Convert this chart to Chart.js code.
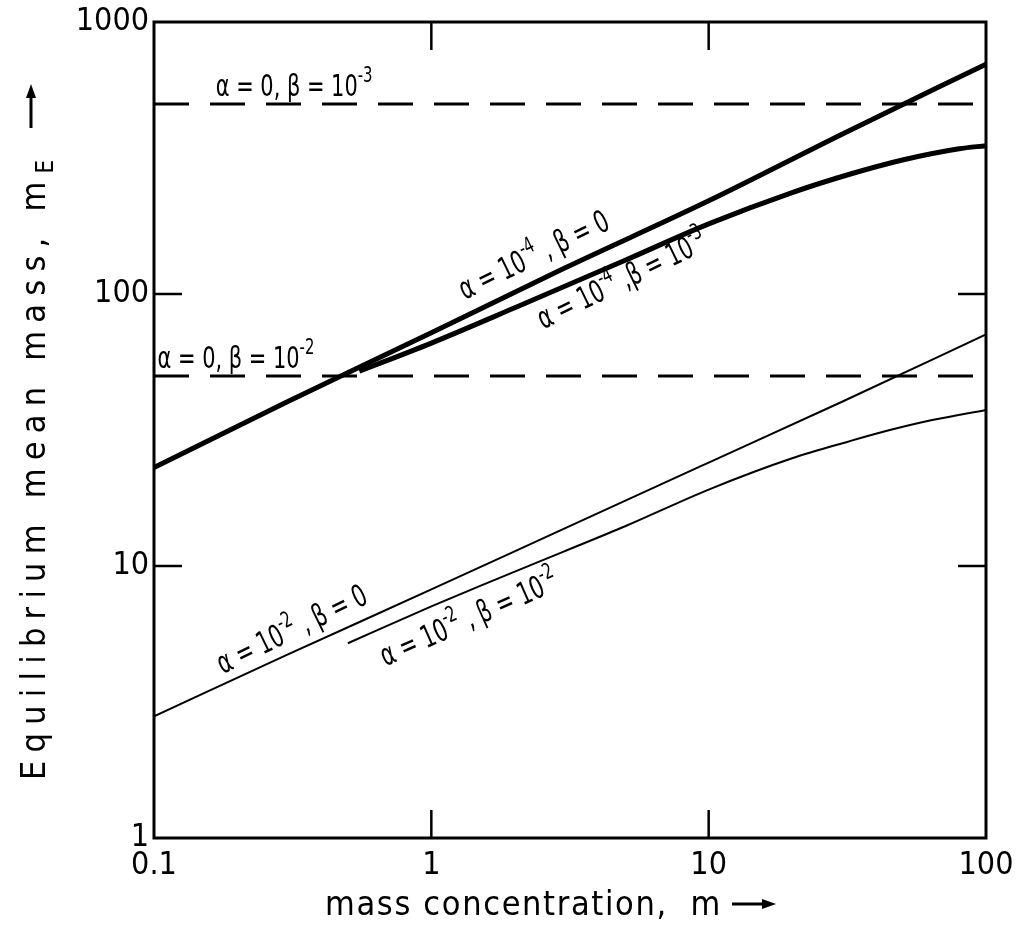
<!DOCTYPE html>
<html>
<head>
<meta charset="utf-8">
<script src="https://cdn.jsdelivr.net/npm/chart.js@4.4.1/dist/chart.umd.min.js"></script>
<style>
  body { margin: 0; background: #fff; }
  #wrap { width: 1018px; height: 941px; }
</style>
</head>
<body>
<div id="wrap"><canvas id="myChart"></canvas></div>
<script>
const FONT = '"DejaVu Sans Condensed", "Liberation Sans Narrow", "DejaVu Sans", sans-serif';

// tick values / labels
const xTicks = [0.1, 1, 10, 100];
const xTickLabels = ['0.1', '1', '10', '100'];
const yTicks = [1, 10, 100, 1000];
const yTickLabels = ['1', '10', '100', '1000'];

// curves (m -> m_E)
const a4b0X = [0.1, 0.3, 1, 3, 10, 30, 100];
const a4b0Y = [23, 40, 72, 124, 220, 385, 700];

const a4b3X = [0.55, 1, 2, 5, 10, 20, 32, 50, 80, 100];
const a4b3Y = [52, 66, 89, 133, 181, 236, 275, 311, 342, 351];

const a2b0X = [0.1, 0.3, 1, 3, 10, 30, 100];
const a2b0Y = [2.8, 4.7, 8.2, 13.7, 24, 40, 71];

const a2b2X = [0.5, 1, 1.5, 3, 5, 10, 20, 32, 45, 64, 100];
const a2b2Y = [5.2, 7.1, 8.45, 11.3, 14, 19.1, 24.9, 28.7, 31.6, 34.4, 37.5];

const b3OnlyX = [0.1, 100];
const b3OnlyY = [500, 500];
const b2OnlyX = [0.1, 100];
const b2OnlyY = [50, 50];

const zip = (xs, ys) => xs.map((x, i) => ({ x: x, y: ys[i] }));

// curve labels, anchored in data coordinates
const notes = [
  { text: 'α = 0, β = 10^{-3}', x: 0.167, y: 536, angle: 0 },
  { text: 'α = 0, β = 10^{-2}', x: 0.103, y: 53.6, angle: 0 },
  { text: 'α = 10^{-4} , β = 0', x: 1.32, y: 95, angle: -26 },
  { text: 'α = 10^{-4} ,β = 10^{-3}', x: 2.53, y: 74, angle: -26 },
  { text: 'α = 10^{-2} , β = 0', x: 0.177, y: 4.0, angle: -26 },
  { text: 'α = 10^{-2} , β = 10^{-2}', x: 0.684, y: 4.27, angle: -24 }
];

function drawRich(ctx, str, x, y, size, angle, sx) {
  const parts = str.split(/(\^\{[^}]*\})/).filter(s => s);
  ctx.save();
  ctx.translate(x, y);
  ctx.rotate(angle * Math.PI / 180);
  ctx.scale(sx, 1);
  ctx.textAlign = 'left';
  ctx.textBaseline = 'alphabetic';
  let cx = 0;
  parts.forEach(p => {
    if (p.startsWith('^{')) {
      const t = p.slice(2, -1);
      ctx.font = Math.round(size * 0.72) + 'px ' + FONT;
      ctx.fillText(t, cx, -size * 0.45);
      cx += ctx.measureText(t).width;
    } else {
      ctx.font = size + 'px ' + FONT;
      ctx.fillText(p, cx, 0);
      cx += ctx.measureText(p).width;
    }
  });
  ctx.restore();
  return cx;
}

function arrowHead(ctx, x, y, len, half) {
  ctx.beginPath();
  ctx.moveTo(x, y);
  ctx.lineTo(x - len, y - half);
  ctx.lineTo(x - len, y + half);
  ctx.closePath();
  ctx.fill();
}

const decor = {
  id: 'decor',
  afterDraw(chart) {
    const ctx = chart.ctx;
    const a = chart.chartArea;
    const xs = chart.scales.x, ys = chart.scales.y;
    ctx.save();
    ctx.fillStyle = '#000';
    ctx.strokeStyle = '#000';

    // frame
    ctx.lineWidth = 3;
    ctx.strokeRect(a.left, a.top, a.right - a.left, a.bottom - a.top);

    // inward ticks
    ctx.lineWidth = 2.5;
    const tl = 28;
    [1, 10].forEach(v => {
      const px = xs.getPixelForValue(v);
      ctx.beginPath();
      ctx.moveTo(px, a.bottom); ctx.lineTo(px, a.bottom - tl);
      ctx.moveTo(px, a.top); ctx.lineTo(px, a.top + tl);
      ctx.stroke();
    });
    [10, 100].forEach(v => {
      const py = ys.getPixelForValue(v);
      ctx.beginPath();
      ctx.moveTo(a.left, py); ctx.lineTo(a.left + tl, py);
      ctx.moveTo(a.right, py); ctx.lineTo(a.right - tl, py);
      ctx.stroke();
    });

    // curve labels
    ctx.letterSpacing = '0px';
    notes.forEach(n => {
      drawRich(ctx, n.text, xs.getPixelForValue(n.x), ys.getPixelForValue(n.y), 31, n.angle, 0.75);
    });

    // x axis title
    const size = 34;
    ctx.font = size + 'px ' + FONT;
    ctx.letterSpacing = '0px';
    let xt = 'mass concentration,  m';
    let w0 = ctx.measureText(xt).width;
    ctx.letterSpacing = ((397 - w0) / xt.length).toFixed(2) + 'px';
    ctx.textAlign = 'left';
    ctx.textBaseline = 'alphabetic';
    ctx.fillText(xt, 325, 915);
    ctx.lineWidth = 3;
    ctx.beginPath();
    ctx.moveTo(732, 904); ctx.lineTo(765, 904);
    ctx.stroke();
    arrowHead(ctx, 776, 904, 14, 5);

    // y axis title (rotated, with subscript E)
    ctx.save();
    ctx.translate(45, 780);
    ctx.rotate(-Math.PI / 2);
    ctx.letterSpacing = '0px';
    let yt = 'Equilibrium mean mass, m';
    let sub = 'E';
    ctx.font = Math.round(size * 0.7) + 'px ' + FONT;
    const ws = ctx.measureText(sub).width;
    ctx.font = size + 'px ' + FONT;
    w0 = ctx.measureText(yt).width;
    ctx.letterSpacing = ((620 - ws - w0) / yt.length).toFixed(2) + 'px';
    ctx.fillText(yt, 0, 0);
    const wy = ctx.measureText(yt).width;
    ctx.font = Math.round(size * 0.7) + 'px ' + FONT;
    ctx.fillText(sub, wy, 8);
    // arrow
    ctx.lineWidth = 3;
    ctx.beginPath();
    ctx.moveTo(652, -14); ctx.lineTo(684, -14);
    ctx.stroke();
    arrowHead(ctx, 696, -14, 14, 5);
    ctx.restore();

    ctx.restore();
  }
};

const thick = { borderColor: '#000', borderWidth: 5, pointRadius: 0, fill: false, cubicInterpolationMode: 'monotone' };
const thin = { borderColor: '#000', borderWidth: 2, pointRadius: 0, fill: false, cubicInterpolationMode: 'monotone' };
const dashed = { borderColor: '#000', borderWidth: 3, pointRadius: 0, fill: false, borderDash: [35, 21] };

const config = {
  type: 'line',
  data: {
    datasets: [
      Object.assign({ label: 'a=1e-4, b=0', data: zip(a4b0X, a4b0Y) }, thick),
      Object.assign({ label: 'a=1e-4, b=1e-3', data: zip(a4b3X, a4b3Y) }, thick),
      Object.assign({ label: 'a=1e-2, b=0', data: zip(a2b0X, a2b0Y) }, thin),
      Object.assign({ label: 'a=1e-2, b=1e-2', data: zip(a2b2X, a2b2Y) }, thin),
      Object.assign({ label: 'a=0, b=1e-3', data: zip(b3OnlyX, b3OnlyY) }, dashed),
      Object.assign({ label: 'a=0, b=1e-2', data: zip(b2OnlyX, b2OnlyY) }, dashed)
    ]
  },
  options: {
    responsive: true,
    maintainAspectRatio: false,
    animation: false,
    layout: { padding: { top: 22, right: 32, bottom: 0, left: 0 } },
    plugins: { legend: { display: false }, tooltip: { enabled: false } },
    scales: {
      x: {
        type: 'logarithmic',
        min: 0.1,
        max: 100,
        afterBuildTicks: s => { s.ticks = xTicks.map(v => ({ value: v })); },
        afterFit: s => { s.height = 103; s.paddingLeft = 0; s.paddingRight = 0; },
        grid: { display: false, drawTicks: false },
        border: { display: false },
        ticks: {
          color: '#000',
          font: { family: FONT, size: 32 },
          padding: 8,
          maxRotation: 0,
          autoSkip: false,
          callback: (v, i) => xTickLabels[i]
        }
      },
      y: {
        type: 'logarithmic',
        min: 1,
        max: 1000,
        afterBuildTicks: s => { s.ticks = yTicks.map(v => ({ value: v })); },
        afterFit: s => { s.width = 154; s.paddingTop = 0; s.paddingBottom = 0; },
        grid: { display: false, drawTicks: false },
        border: { display: false },
        ticks: {
          color: '#000',
          font: { family: FONT, size: 32 },
          padding: 5,
          autoSkip: false,
          callback: (v, i) => yTickLabels[i]
        }
      }
    }
  },
  plugins: [decor]
};

const myChart = new Chart(document.getElementById('myChart'), config);
</script>
</body>
</html>
